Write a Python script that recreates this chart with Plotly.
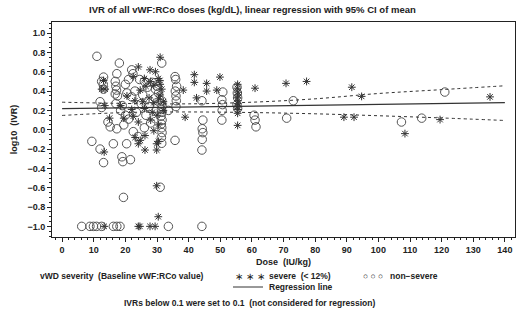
import plotly.graph_objects as go

# ---------------- data ----------------
nonsevere_dose = [11.0, 18.1, 31.5, 13.1, 17.3, 22.0, 22.4, 12.5, 13.0, 16.8, 17.0, 17.2, 16.8, 17.5, 13.1,
                  21.0, 20.0, 24.5, 26.0, 28.5, 27.0, 29.5, 23.0, 20.5, 22.0, 25.5,
                  35.7, 35.9, 36.2, 35.8, 36.0, 36.1, 36.0, 33.6,
                  12.0, 12.5, 17.0, 19.0, 18.5, 20.0, 21.0, 23.5, 25.0, 27.5, 26.5, 28.0,
                  15.2, 17.3, 14.5, 19.5, 22.5, 24.0, 26.0, 9.4, 12.0, 20.4, 16.2, 35.7,
                  31.5, 31.3, 31.6, 31.4, 31.5, 31.3, 31.6, 31.4, 31.5, 31.6, 31.4, 31.5, 30.0, 30.5, 29.5,
                  13.1, 18.9, 19.2, 21.6, 19.4, 31.0, 44.2,
                  6.2, 8.8, 9.9, 10.9, 12.5, 16.2, 17.3, 18.3, 33.6, 44.2,
                  44.2, 44.5, 44.3, 44.5, 44.3,
                  50.8, 50.5, 50.7, 50.6, 50.5,
                  55.3, 55.4, 55.5, 55.3, 55.5,
                  60.7, 61.0, 61.3,
                  71.0, 73.1, 107.3, 113.7, 121.0]
nonsevere_ivr = [0.76, 0.69, 0.69, 0.545, 0.58, 0.62, 0.58, 0.50, 0.47, 0.50, 0.45, 0.41, 0.37, 0.35, 0.42,
                 0.52, 0.47, 0.52, 0.50, 0.49, 0.44, 0.42, 0.40, 0.38, 0.34, 0.36,
                 0.55, 0.52, 0.45, 0.40, 0.35, 0.30, 0.24, 0.20,
                 0.29, 0.23, 0.27, 0.25, 0.20, 0.15, 0.11, 0.18, 0.27, 0.24, 0.15, 0.07,
                 0.03, 0.01, 0.08, 0.05, -0.02, -0.07, 0.02, -0.12, -0.20, -0.145, -0.145, -0.11,
                 0.30, 0.27, 0.24, 0.21, 0.18, 0.14, 0.10, 0.06, 0.02, -0.03, -0.08, -0.14, 0.45, 0.38, 0.33,
                 -0.34, -0.28, -0.33, -0.31, -0.70, -0.595, -0.21,
                 -1.0, -1.0, -1.0, -1.0, -1.0, -1.0, -1.0, -1.0, -1.0, -1.0,
                 0.30, 0.10, 0.01, -0.03, -0.10,
                 0.39, 0.31, 0.26, 0.20, 0.10,
                 0.44, 0.38, 0.33, 0.26, 0.22,
                 0.15, 0.10, 0.03,
                 0.12, 0.30, 0.08, 0.12, 0.39]

severe_dose = [31.0, 24.1, 27.8, 29.5, 22.5, 30.4, 30.9, 26.0, 28.0, 24.7, 26.5, 29.0, 31.0, 31.5,
               12.5, 13.1, 13.6, 20.5, 23.0, 25.5, 27.5, 29.0, 30.5, 31.0, 32.0, 18.5, 22.0, 26.0,
               28.5, 30.0, 32.0, 24.1, 28.0, 30.5, 23.1, 26.2, 29.0, 30.5, 13.5, 15.0, 19.5, 22.5,
               38.3, 41.8, 41.8, 38.9, 42.5, 45.7, 45.7, 48.9, 49.9, 61.0, 70.8, 77.3, 91.6, 94.7,
               89.1, 92.3, 135.3, 119.5, 108.4, 55.5,
               55.5, 55.4, 55.6, 55.5, 55.4, 55.6, 55.5, 55.4, 55.6, 55.5,
               13.3, 26.2, 29.9, 24.1, 24.7, 29.9, 29.9, 30.4,
               13.3, 24.1, 24.6, 27.8, 29.4]
severe_ivr = [0.75, 0.65, 0.62, 0.60, 0.55, 0.53, 0.51, 0.53, 0.50, 0.41, 0.45, 0.46, 0.47, 0.42,
              0.42, 0.51, 0.42, 0.35, 0.30, 0.29, 0.33, 0.28, 0.32, 0.36, 0.29, 0.25, 0.21, 0.22,
              0.18, 0.15, 0.20, 0.08, 0.10, 0.05, -0.08, -0.06, -0.01, -0.12, 0.25, 0.12, 0.12, 0.14,
              0.41, 0.57, 0.49, 0.13, 0.33, 0.48, 0.40, 0.41, 0.545, 0.43, 0.48, 0.50, 0.44, 0.345,
              0.13, 0.13, 0.34, 0.105, -0.04, 0.045,
              0.47, 0.43, 0.39, 0.36, 0.33, 0.30, 0.27, 0.24, 0.21, 0.17,
              -0.23, -0.21, -0.21, -0.145, -0.11, -0.145, -0.58, -0.90,
              -1.0, -1.0, -1.0, -1.0, -1.0]

fit_dose = [0, 20, 40, 60, 80, 100, 120, 140]
fit_mean = [0.218, 0.227, 0.236, 0.245, 0.253, 0.262, 0.271, 0.280]
ci_upper = [0.285, 0.272, 0.268, 0.285, 0.32, 0.375, 0.415, 0.455]
ci_lower = [0.148, 0.178, 0.184, 0.178, 0.165, 0.145, 0.122, 0.096]

x_ticks = list(range(0, 141, 10))
y_ticks = [1.0, 0.8, 0.6, 0.4, 0.2, 0.0, -0.2, -0.4, -0.6, -0.8, -1.0]
y_tick_text = ["1.0", "0.8", "0.6", "0.4", "0.2", "0.0", "\u22120.2", "\u22120.4", "\u22120.6", "\u22120.8", "\u22121.0"]

FONT = "Liberation Sans"
INK = "#222222"

fig = go.Figure()
fig.add_trace(go.Scatter(x=nonsevere_dose, y=nonsevere_ivr, mode="markers",
                         marker=dict(symbol="circle-open", size=8.5, color="#555555", line=dict(width=1)),
                         name="non-severe"))
fig.add_trace(go.Scatter(x=severe_dose, y=severe_ivr, mode="markers",
                         marker=dict(symbol="asterisk-open", size=6.5, color="#333333", line=dict(width=1)),
                         name="severe"))
fig.add_trace(go.Scatter(x=fit_dose, y=fit_mean, mode="lines",
                         line=dict(color="#333333", width=1.2), name="Regression line"))
fig.add_trace(go.Scatter(x=fit_dose, y=ci_upper, mode="lines", line_shape="spline",
                         line=dict(color="#333333", width=1, dash="dot"), showlegend=False))
fig.add_trace(go.Scatter(x=fit_dose, y=ci_lower, mode="lines", line_shape="spline",
                         line=dict(color="#333333", width=1, dash="dot"), showlegend=False))

axis_common = dict(showline=True, linecolor=INK, linewidth=1, mirror=True, showgrid=False, zeroline=False,
                   ticks="outside", ticklen=4, tickcolor=INK,
                   tickfont=dict(family=FONT, size=9, color=INK, weight="bold"))
fig.update_xaxes(range=[-3.2, 143.2], tickvals=x_ticks,
                 minor=dict(dtick=2, ticks="outside", ticklen=2, tickcolor=INK),
                 title=dict(text="Dose  (IU/kg)", font=dict(family=FONT, size=9, color=INK, weight="bold"), standoff=4),
                 **axis_common)
fig.update_yaxes(range=[-1.11, 1.115], tickvals=y_ticks, ticktext=y_tick_text,
                 minor=dict(dtick=0.05, ticks="outside", ticklen=2, tickcolor=INK),
                 title=dict(text="log10  (IVR)", font=dict(family=FONT, size=9, color=INK, weight="bold"), standoff=8),
                 **axis_common)

fig.update_layout(
    width=520, height=329, margin=dict(l=52, r=5, t=22, b=92),
    paper_bgcolor="white", plot_bgcolor="white", showlegend=False,
)

def px(xp, yp):
    # convert page pixel to paper coordinates
    return (xp - 52) / (520 - 52 - 5), (237 - yp) / (329 - 22 - 92)

items = [
    ("IVR of all vWF:RCo doses (kg/dL), linear regression with 95% CI of mean", 252, 10, "center", 9.5, "bold"),
    ("vWD severity  (Baseline vWF:RCo value)", 38, 276, "left", 8.5, "bold"),
    ("\u2217 \u2217 \u2217", 233, 276, "left", 10, "normal"),
    ("severe  (< 12%)", 267, 276, "left", 8.5, "bold"),
    ("\u25cb \u25cb \u25cb", 361, 276, "left", 8.5, "normal"),
    ("non\u2212severe", 388, 276, "left", 8.5, "bold"),
    ("Regression line", 267, 287, "left", 8.5, "bold"),
    ("IVRs below 0.1 were set to 0.1  (not considered for regression)", 249, 303, "center", 8.5, "bold"),
]
anns = []
for text, xp, yp, anchor, size, w in items:
    ax, ay = px(xp, yp)
    anns.append(dict(text=text, x=ax, y=ay, xref="paper", yref="paper", xanchor=anchor, yanchor="middle",
                     showarrow=False, font=dict(family=FONT, size=size, color=INK, weight=w)))
fig.update_layout(annotations=anns)

x0, y0 = px(233, 287)
x1, _ = px(263, 287)
fig.add_shape(type="line", xref="paper", yref="paper", x0=x0, x1=x1, y0=y0, y1=y0,
              line=dict(color="#333333", width=1))

fig.write_html("out.html", config={"displayModeBar": False},
               post_script="document.body.style.margin='0';")
